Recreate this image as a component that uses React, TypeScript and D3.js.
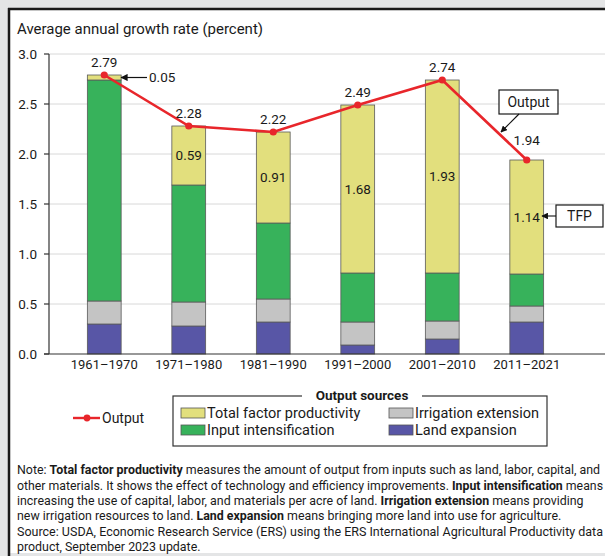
import React from 'react';
import * as d3 from 'd3';

const periods = ['1961–1970', '1971–1980', '1981–1990', '1991–2000', '2001–2010', '2011–2021'];
const landExpansion = [0.30, 0.28, 0.32, 0.09, 0.15, 0.32];
const irrigationExtension = [0.23, 0.24, 0.23, 0.23, 0.18, 0.16];
const inputIntensification = [2.21, 1.17, 0.76, 0.49, 0.48, 0.32];
const totalFactorProductivity = [0.05, 0.59, 0.91, 1.68, 1.93, 1.14];
const outputGrowth = [2.79, 2.28, 2.22, 2.49, 2.74, 1.94];
const yTicks = [0, 0.5, 1.0, 1.5, 2.0, 2.5, 3.0];
const seriesKeys = ['land', 'irrigation', 'input', 'tfp'];
const seriesColors: Record<string, string> = {
  tfp: '#e2df7d',
  input: '#37b25b',
  irrigation: '#c4c4c4',
  land: '#5856a6',
};

const FONT = 'Roboto, "Liberation Sans", Arial, sans-serif';

export default function App() {
  const rows = periods.map((p, i) => ({
    period: p,
    land: landExpansion[i],
    irrigation: irrigationExtension[i],
    input: inputIntensification[i],
    tfp: totalFactorProductivity[i],
  }));
  const stacked = d3.stack<any>().keys(seriesKeys)(rows);

  const x = d3.scaleBand<string>().domain(periods).range([62, 569]).paddingInner(0.6).paddingOuter(0.3);
  const y = d3.scaleLinear().domain([0, 3]).range([354, 54]);
  const cx = (p: string) => (x(p) as number) + x.bandwidth() / 2;

  const linePath = d3
    .line<number>()
    .x((_, i) => cx(periods[i]))
    .y((d) => y(d))(outputGrowth) as string;

  const tfpLayer = stacked[3];
  const labelOffsets = [-8, -8, -8, -8, -8, -15];

  return (
    <>
      <style>{`body{margin:0}`}</style>
      <svg width={605} height={556} style={{ display: 'block', fontFamily: FONT }}>
        <defs>
          <marker id="arrow" viewBox="0 0 10 10" refX="9" refY="5" markerWidth="6" markerHeight="6" orient="auto-start-reverse">
            <path d="M0,0 L10,5 L0,10 z" fill="#111" />
          </marker>
        </defs>
        <rect x={0} y={0} width={605} height={556} fill="#e4e5e6" />
        <rect x={8} y={8} width={597} height={545} fill="#ffffff" />
        <line x1={8} x2={605} y1={9} y2={9} stroke="#1a1a1a" strokeWidth={2.5} />
        <line x1={9} x2={9} y1={8} y2={556} stroke="#1a1a1a" strokeWidth={2.5} />

        <text x={17} y={34} fontSize={15} fill="#1a1a1a" textLength={246} lengthAdjust="spacingAndGlyphs">
          Average annual growth rate (percent)
        </text>

        {/* gridlines */}
        {yTicks.filter((t) => t > 0).map((t) => (
          <line key={t} x1={49} x2={605} y1={y(t)} y2={y(t)} stroke="#d8d8d8" strokeWidth={1} />
        ))}

        {/* y axis */}
        <line x1={49} x2={49} y1={y(3)} y2={y(0)} stroke="#333" strokeWidth={1.2} />
        {yTicks.map((t) => (
          <g key={t}>
            <line x1={44} x2={49} y1={y(t)} y2={y(t)} stroke="#333" strokeWidth={1.2} />
            <text x={37} y={y(t)} dy="0.35em" textAnchor="end" fontSize={13.5} fill="#1a1a1a">
              {d3.format('.1f')(t)}
            </text>
          </g>
        ))}

        {/* bars */}
        {stacked.map((layer) => (
          <g key={layer.key}>
            {layer.map((d, i) => (
              <rect
                key={i}
                x={x(periods[i])}
                width={x.bandwidth()}
                y={y(d[1])}
                height={y(d[0]) - y(d[1])}
                fill={seriesColors[layer.key]}
                stroke="#5a5a5a"
                strokeWidth={0.8}
              />
            ))}
          </g>
        ))}

        {/* x axis */}
        <line x1={44} x2={605} y1={y(0)} y2={y(0)} stroke="#333" strokeWidth={1.2} />
        {periods.map((p) => (
          <text key={p} x={cx(p)} y={369} textAnchor="middle" fontSize={13} fill="#1a1a1a">{p}</text>
        ))}

        {/* TFP labels inside */}
        {tfpLayer.map((d, i) =>
          i === 0 ? null : (
            <text key={i} x={cx(periods[i])} y={(y(d[0]) + y(d[1])) / 2} dy="0.35em" textAnchor="middle" fontSize={13.5} fill="#1a1a1a">
              {d3.format('.2f')(totalFactorProductivity[i])}
            </text>
          )
        )}

        {/* output line */}
        <path d={linePath} fill="none" stroke="#e8262b" strokeWidth={2.6} />
        {outputGrowth.map((v, i) => (
          <g key={i}>
            <circle cx={cx(periods[i])} cy={y(v)} r={3.6} fill="#e8262b" />
            <text x={cx(periods[i])} y={y(v) + labelOffsets[i]} textAnchor="middle" fontSize={13.5} fill="#1a1a1a">
              {d3.format('.2f')(v)}
            </text>
          </g>
        ))}

        {/* 0.05 annotation */}
        <line
          x1={147}
          x2={(x(periods[0]) as number) + x.bandwidth()}
          y1={(y(tfpLayer[0][0]) + y(tfpLayer[0][1])) / 2}
          y2={(y(tfpLayer[0][0]) + y(tfpLayer[0][1])) / 2}
          stroke="#111"
          strokeWidth={1.2}
          markerEnd="url(#arrow)"
        />
        <text x={149} y={(y(tfpLayer[0][0]) + y(tfpLayer[0][1])) / 2} dy="0.35em" fontSize={13.5} fill="#1a1a1a">
          {d3.format('.2f')(totalFactorProductivity[0])}
        </text>

        {/* Output callout */}
        <rect x={499} y={90} width={59} height={24} fill="#fff" stroke="#1a1a1a" strokeWidth={1.2} />
        <text x={528.5} y={102} dy="0.35em" textAnchor="middle" fontSize={14} fill="#1a1a1a">Output</text>
        <line x1={519} y1={114} x2={501} y2={132} stroke="#111" strokeWidth={1.1} markerEnd="url(#arrow)" />

        {/* TFP callout */}
        <rect x={556} y={205} width={47} height={22} fill="#fff" stroke="#1a1a1a" strokeWidth={1.2} />
        <text x={579.5} y={216} dy="0.35em" textAnchor="middle" fontSize={14} fill="#1a1a1a">TFP</text>
        <line x1={556} y1={216} x2={542} y2={216} stroke="#111" strokeWidth={1.1} markerEnd="url(#arrow)" />

        {/* Output legend */}
        <line x1={73} x2={100} y1={418} y2={418} stroke="#e8262b" strokeWidth={2.4} />
        <circle cx={87} cy={418} r={3.4} fill="#e8262b" />
        <text x={102} y={418} dy="0.35em" fontSize={14} fill="#1a1a1a">Output</text>

        {/* Output sources legend */}
        <rect x={173} y={396} width={374} height={50} fill="none" stroke="#333" strokeWidth={1.2} />
        <rect x={302} y={388} width={120} height={14} fill="#fff" />
        <text x={362} y={395} dy="0.35em" textAnchor="middle" fontSize={13.5} fontWeight="bold" fill="#1a1a1a">Output sources</text>
        {[
          { key: 'tfp', label: 'Total factor productivity', sx: 181, sy: 413 },
          { key: 'input', label: 'Input intensification', sx: 181, sy: 430 },
          { key: 'irrigation', label: 'Irrigation extension', sx: 389, sy: 413 },
          { key: 'land', label: 'Land expansion', sx: 389, sy: 430 },
        ].map((it) => (
          <g key={it.key}>
            <rect x={it.sx} y={it.sy - 5} width={24} height={10} fill={seriesColors[it.key]} stroke="#555" strokeWidth={0.8} />
            <text x={it.sx + 26} y={it.sy} dy="0.35em" fontSize={14.5} fill="#1a1a1a">{it.label}</text>
          </g>
        ))}

        {/* Note */}
        <g fontSize={12.4} fill="#1a1a1a">
          <text x={17} y={473.5} textLength={583} lengthAdjust="spacingAndGlyphs">
            Note: <tspan fontWeight="bold">Total factor productivity</tspan> measures the amount of output from inputs such as land, labor, capital, and
          </text>
          <text x={17} y={489.5} textLength={586} lengthAdjust="spacingAndGlyphs">
            other materials. It shows the effect of technology and efficiency improvements. <tspan fontWeight="bold">Input intensification</tspan> means
          </text>
          <text x={17} y={504.5}>
            increasing the use of capital, labor, and materials per acre of land. <tspan fontWeight="bold">Irrigation extension</tspan> means providing
          </text>
          <text x={17} y={519.5}>
            new irrigation resources to land. <tspan fontWeight="bold">Land expansion</tspan> means bringing more land into use for agriculture.
          </text>
          <text x={17} y={535.5} textLength={586} lengthAdjust="spacingAndGlyphs">
            Source: USDA, Economic Research Service (ERS) using the ERS International Agricultural Productivity data
          </text>
          <text x={17} y={550.5}>product, September 2023 update.</text>
        </g>
      </svg>
    </>
  );
}
